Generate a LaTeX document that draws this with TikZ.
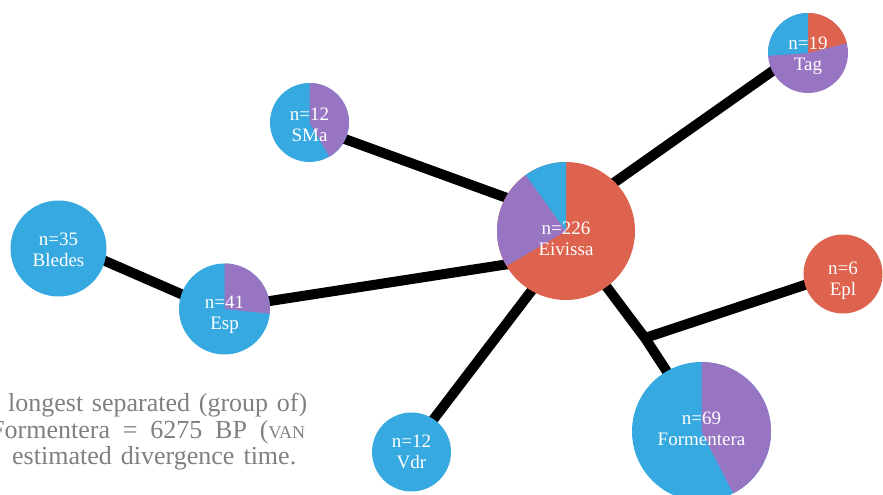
\documentclass[tikz,border=0pt]{standalone}
\usepackage{fontspec}
\setmainfont{Liberation Serif}
\usetikzlibrary{backgrounds}
\definecolor{cblue}{RGB}{54,169,225}
\definecolor{cred}{RGB}{221,99,79}
\definecolor{cpurple}{RGB}{152,117,195}
\definecolor{cgray}{RGB}{128,128,128}
\newcommand{\pieslice}[3]{\fill[#1] (path picture bounding box.center) -- ++(#2:200pt) arc[start angle=#2, end angle=#3, radius=200pt] -- cycle;}
% two-line pie label, lowered by #1 (pt) below the pie centre
\newcommand{\pielabel}[3]{\raisebox{\dimexpr-4.75pt-#1pt\relax}[0pt][0pt]{\begin{tabular}{@{}c@{}}#2\\#3\end{tabular}}}
\begin{document}
\begin{tikzpicture}[x=1pt,y=1pt,
  pie/.style={circle, inner sep=0pt, minimum size=#1, text=white, font=\fontsize{19}{21}\selectfont},
  edge/.style={line width=10pt, black},
  note/.style={text=cgray, font=\fontsize{26}{29}\selectfont, inner sep=0pt}]
\useasboundingbox (0,0) rectangle (883,495);
\clip (0,0) rectangle (883,495);

% notes (clipped paragraph text)
\node[note, anchor=base west] (t1) at (8,83) {\makebox[299pt][s]{longest separated (group of)}};
\node[note, anchor=base west] (t2) at (-10,56) {\makebox[315pt][s]{Formentera = 6275 BP ({\fontsize{18}{18}\selectfont VAN}}};
\node[note, anchor=base west] (t3) at (12,30) {\makebox[284pt][s]{estimated divergence time.}};

% pies
\node[pie=138pt, fill=cred, path picture={\pieslice{cpurple}{125.8}{210.5}\pieslice{cblue}{90}{125.8}}] (eiv) at (566,264) {\pielabel{9.5}{n=226}{Eivissa}};
\node[pie=139pt, fill=cblue, path picture={\pieslice{cpurple}{-62.9}{90}}] (for) at (701.5,63.5) {\pielabel{-1.5}{n=69}{Formentera}};
\node[pie=80pt, fill=cpurple, path picture={\pieslice{cred}{14.4}{90}\pieslice{cblue}{90}{184}}] (tag) at (808,442) {\pielabel{2}{n=19}{Tag}};
\node[pie=79pt, fill=cblue, path picture={\pieslice{cpurple}{-59.8}{90}}] (sma) at (309.5,372.5) {\pielabel{3.5}{n=12}{SMa}};
\node[pie=91pt, fill=cblue, path picture={\pieslice{cpurple}{-6}{90}}] (esp) at (224.5,186) {\pielabel{5.5}{n=41}{Esp}};
\node[pie=96pt, fill=cblue] (bledes) at (58.5,246.5) {\pielabel{3}{n=35}{Bledes}};
\node[pie=79pt, fill=cred] (epl) at (843,221) {\pielabel{6}{n=6}{Epl}};
\node[pie=79pt, fill=cblue] (vdr) at (411.5,43) {\pielabel{1}{n=12}{Vdr}};
\coordinate (jn) at (645,157);

% connectors
\begin{scope}[on background layer]
\draw[edge, shorten <=-6pt, shorten >=-6pt] (bledes.-15) -- (esp.161);
\draw[edge, shorten <=-6pt, shorten >=-6pt] (esp.10) -- (eiv.209);
\draw[edge, shorten <=-6pt, shorten >=-6pt] (sma.-25) -- (eiv.151);
\draw[edge, shorten <=-6pt, shorten >=-6pt] (tag.207) -- (eiv.45);
\draw[edge, shorten <=-6pt, shorten >=-6pt] (vdr.56) -- (eiv.-120);
\draw[edge, shorten <=-6pt, shorten >=-6pt] (eiv.-54) -- (jn) -- (for.120);
\draw[edge, shorten >=-6pt] (jn) -- (epl.196);
\end{scope}
\end{tikzpicture}
\end{document}
